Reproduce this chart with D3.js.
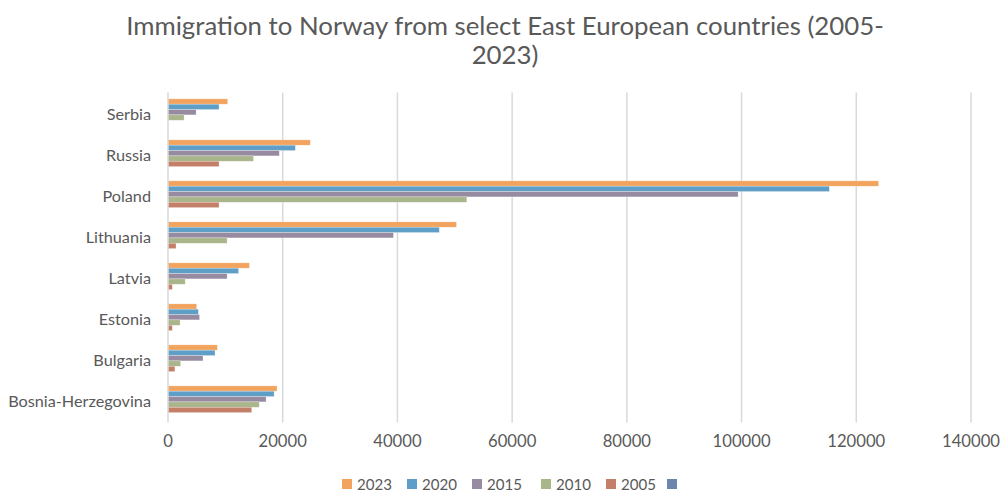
<!DOCTYPE html>
<html>
<head>
<meta charset="utf-8">
<script src="https://cdn.jsdelivr.net/npm/d3@7"></script>
<style>
  html, body { margin: 0; padding: 0; background: #fff; }
  svg { display: block; }
  text { font-family: Lato, "Open Sans", sans-serif; fill: #595959; }
</style>
</head>
<body>
<svg id="chart" width="1004" height="495"></svg>
<script>
// ---- data ----
const categories = ["Serbia", "Russia", "Poland", "Lithuania", "Latvia", "Estonia", "Bulgaria", "Bosnia-Herzegovina"];
const seriesNames = ["2023", "2020", "2015", "2010", "2005", ""];
const v2023 = [10400, 24800, 123900, 50300, 14200, 5000, 8600, 19000];
const v2020 = [8900, 22200, 115300, 47300, 12300, 5300, 8200, 18500];
const v2015 = [4900, 19400, 99400, 39300, 10300, 5500, 6100, 17100];
const v2010 = [2800, 14900, 52100, 10300, 3000, 2100, 2200, 15900];
const v2005 = [0, 8900, 8900, 1400, 750, 750, 1200, 14600];
const vBlank = [0, 0, 0, 0, 0, 0, 0, 0];
const seriesValues = [v2023, v2020, v2015, v2010, v2005, vBlank];
const seriesColors = ["#F2A35E", "#5F9EC7", "#978BA2", "#A9B58A", "#C47F69", "#6C87AE"];
const xTicks = [0, 20000, 40000, 60000, 80000, 100000, 120000, 140000];
const titleLines = ["Immigration to Norway from select East European countries (2005-", "2023)"];

// ---- layout ----
const svg = d3.select("#chart");
const plot = { left: 168, right: 971, top: 94.4, bottom: 422.4 };

const x = d3.scaleLinear().domain([0, 140000]).range([plot.left, plot.right]);
const y = d3.scaleBand().domain(categories).range([plot.top, plot.bottom]).paddingInner(0).paddingOuter(0);
const inner = d3.scaleBand().domain(seriesNames.map((d, i) => i)).range([0, y.bandwidth()])
  .paddingInner(0).paddingOuter(0.83);

// helper: fit text width
function fit(sel, target) {
  const w = sel.node().getComputedTextLength();
  const fs = parseFloat(sel.attr("font-size"));
  sel.attr("font-size", fs * target / w);
}

// title
const t1 = svg.append("text").attr("x", 505).attr("y", 35).attr("text-anchor", "middle")
  .attr("font-size", 24).text(titleLines[0]);
fit(t1, 758);
const fsT = t1.attr("font-size");
svg.append("text").attr("x", 505).attr("y", 64).attr("text-anchor", "middle")
  .attr("font-size", fsT).text(titleLines[1]);

// gridlines
svg.append("g").selectAll("line").data(xTicks.slice(1)).join("line")
  .attr("x1", d => x(d)).attr("x2", d => x(d))
  .attr("y1", plot.top - 2).attr("y2", plot.bottom)
  .attr("stroke", "#d9d9d9").attr("stroke-width", 1.5);

// bars
const groups = svg.append("g").selectAll("g").data(seriesValues).join("g")
  .attr("fill", (d, i) => seriesColors[i]);
groups.each(function(vals, si) {
  d3.select(this).selectAll("rect").data(vals).join("rect")
    .attr("x", x(0))
    .attr("y", (d, ci) => y(categories[ci]) + inner(si))
    .attr("height", inner.bandwidth())
    .attr("width", d => Math.max(0, x(d) - x(0)))
    .attr("stroke", "rgba(255,255,255,0.45)").attr("stroke-width", 0.6);
});

// zero axis line
svg.append("line").attr("x1", x(0)).attr("x2", x(0))
  .attr("y1", plot.top - 2).attr("y2", plot.bottom)
  .attr("stroke", "#d9d9d9").attr("stroke-width", 1.5);

// y labels
const yl = svg.append("g").selectAll("text").data(categories).join("text")
  .attr("x", 151).attr("y", d => y(d) + y.bandwidth() / 2 + 5)
  .attr("text-anchor", "end").attr("font-size", 15).text(d => d);
// fit longest
const longest = yl.filter(d => d === "Bosnia-Herzegovina");
const wL = longest.node().getComputedTextLength();
yl.attr("font-size", 15 * 143 / wL);

// x tick labels
const xl = svg.append("g").selectAll("text").data(xTicks).join("text")
  .attr("x", d => x(d)).attr("y", 447).attr("text-anchor", "middle")
  .attr("font-size", 15).text(d => d);
const w140 = xl.filter(d => d === 140000).node().getComputedTextLength();
xl.attr("font-size", 15 * 58 / w140);

// legend
const legendX = [342, 407, 472, 541, 606, 667];
const lg = svg.append("g").selectAll("g").data(seriesNames).join("g")
  .attr("transform", (d, i) => `translate(${legendX[i]},0)`);
lg.append("rect").attr("x", 0).attr("y", 479).attr("width", 10).attr("height", 10)
  .attr("fill", (d, i) => seriesColors[i]);
const lt = lg.append("text").attr("x", 15).attr("y", 490).attr("font-size", 15).text(d => d);
const w23 = lt.filter(d => d === "2023").node().getComputedTextLength();
lt.attr("font-size", 15 * 35 / w23);
</script>
</body>
</html>
